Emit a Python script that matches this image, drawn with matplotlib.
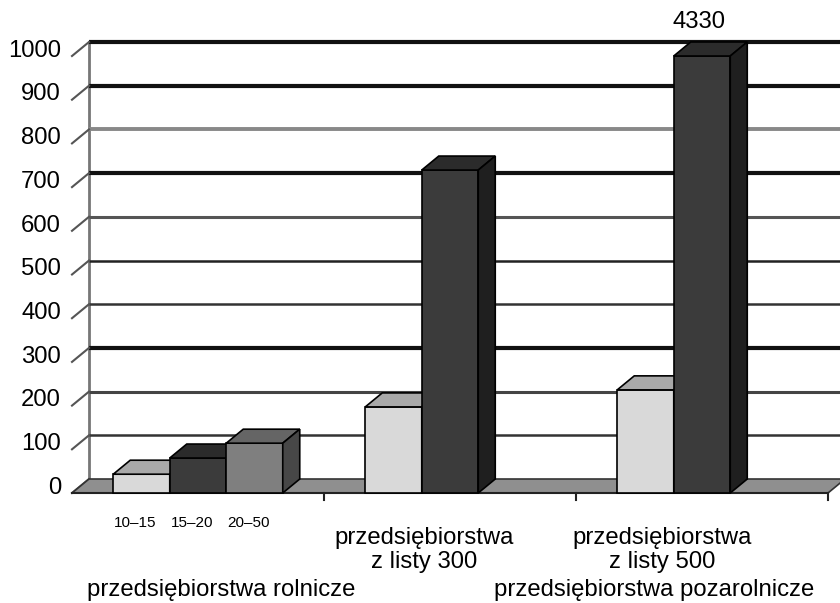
import matplotlib
matplotlib.use("Agg")
import matplotlib.pyplot as plt
from matplotlib.patches import Polygon

plt.rcParams['font.family'] = ['Liberation Sans', 'DejaVu Sans']

# dane
podgrupy = ['10–15', '15–20', '20–50']
etykiety_kategorii = ['', 'przedsiębiorstwa\nz listy 300', 'przedsiębiorstwa\nz listy 500']
etykiety_sektorow = ['przedsiębiorstwa rolnicze', 'przedsiębiorstwa pozarolnicze']
seria_jasna = [43, 197, 236]
seria_ciemna = [80, 739, 4330]
seria_szara = [114, None, None]
podzialka = [0, 100, 200, 300, 400, 500, 600, 700, 800, 900, 1000]
os_max = 1000

# wyglad
kolory = [('#d9d9d9', '#a9a9a9', '#8c8c8c'),
          ('#3b3b3b', '#2b2b2b', '#1f1f1f'),
          ('#7f7f7f', '#656565', '#474747')]
siatka_kolor = ['#333333', '#444444', '#111111', '#333333', '#222222',
                '#555555', '#111111', '#888888', '#111111', '#111111']
siatka_grubosc = [1.8, 2.2, 3, 1.8, 1.8, 2.2, 3, 2.8, 3, 3]
rozmiar = 17.2

px_x = 252.0      # pikseli na kategorie
px_y = 0.437      # pikseli na jednostke
DX = 17 / px_x    # glebokosc 3D
DY = 14 / px_y
szer = 56.5 / px_x

fig = plt.figure(figsize=(8.4, 6.03), dpi=100)
ax = fig.add_axes([0, 0, 1, 1])
ax.set_xlim(-72 / px_x, 768 / px_x)
ax.set_ylim(-(603 - 493) / px_y, 493 / px_y)
ax.axis('off')

# sciana i siatka
ax.plot([DX, DX], [DY, os_max + DY], color='#777777', lw=2, zorder=1)
for i, v in enumerate(podzialka[1:]):
    ax.plot([DX, 4], [v + DY, v + DY], color=siatka_kolor[i], lw=siatka_grubosc[i],
            solid_capstyle='butt', zorder=1)
for v in podzialka:
    ax.plot([0, DX], [v, v + DY], color='#555555', lw=1.5, zorder=1)
    ax.text(-11 / px_x, v + 12, str(v), ha='right', va='center', fontsize=rozmiar)

# podloga
ax.add_patch(Polygon([(0, 0), (3, 0), (3 + DX, DY), (DX, DY)], closed=True,
                     facecolor='#8f8f8f', edgecolor='#333333', lw=1.2, zorder=2))
ax.plot([0, 3], [0, 0], color='#222222', lw=1.5, zorder=2)
for k in [1, 2, 3]:
    ax.plot([k, k], [0, -16], color='#222222', lw=1.5, zorder=2)

# slupki
serie = [seria_jasna, seria_ciemna, seria_szara]
for g in range(3):
    srodek = g + 0.5
    for s in range(3):
        wartosc = serie[s][g]
        if wartosc is None:
            continue
        h = min(wartosc, os_max)
        x0 = srodek + (s - 1.5) * szer
        x1 = x0 + szer
        przod, gora, bok = kolory[s]
        ax.bar(x0, h, width=szer, align='edge', color=przod, edgecolor='black',
               lw=1.2, zorder=3)
        ax.add_patch(Polygon([(x0, h), (x1, h), (x1 + DX, h + DY), (x0 + DX, h + DY)],
                             closed=True, facecolor=gora, edgecolor='black', lw=1.2, zorder=3))
        ax.add_patch(Polygon([(x1, 0), (x1 + DX, DY), (x1 + DX, h + DY), (x1, h)],
                             closed=True, facecolor=bok, edgecolor='black', lw=1.2, zorder=3))
        if wartosc > os_max:
            ax.text(x0 + szer / 2 - 0.01, (493 - 22) / px_y, str(wartosc),
                    ha='center', va='center', fontsize=rozmiar, zorder=4)

# podpisy
for s, tekst in enumerate(podgrupy):
    x = 0.5 + (s - 1) * szer - 6 / px_x
    ax.text(x, -(523 - 493) / px_y, tekst, ha='center', va='center', fontsize=11)

pozycje_kategorii = [None, (424 - 72) / px_x, (662 - 72) / px_x]
for g in [1, 2]:
    ax.text(pozycje_kategorii[g], -(550 - 493) / px_y, etykiety_kategorii[g],
            ha='center', va='center', fontsize=rozmiar, linespacing=1.15)

pozycje_sektorow = [(221 - 72) / px_x, (654 - 72) / px_x]
for i, tekst in enumerate(etykiety_sektorow):
    ax.text(pozycje_sektorow[i], -(590 - 493) / px_y, tekst,
            ha='center', va='center', fontsize=rozmiar)

fig.savefig('out.png', dpi=100)
